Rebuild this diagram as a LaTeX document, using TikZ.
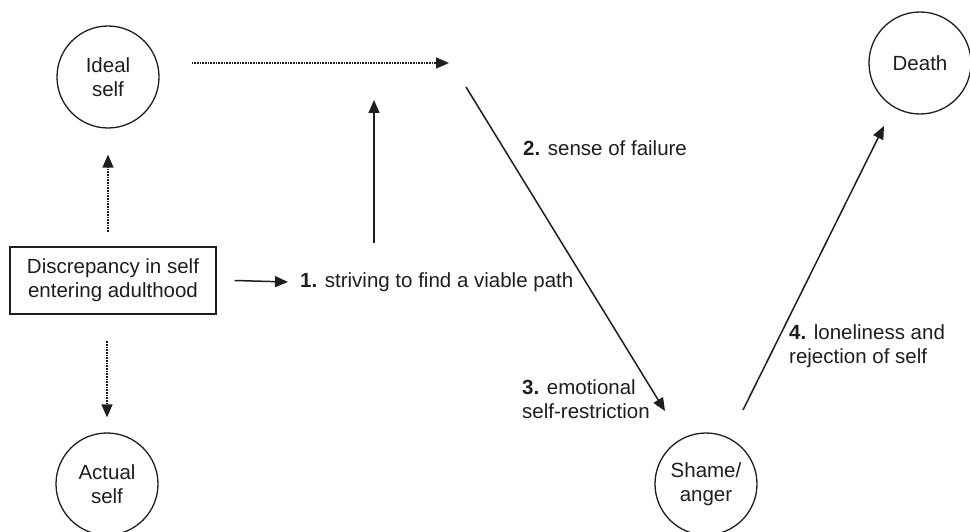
\documentclass[tikz,border=0pt]{standalone}
\usepackage{fontspec}
\setmainfont{Liberation Sans}
\usetikzlibrary{arrows.meta}
\definecolor{ink}{HTML}{1E1E1E}
\begin{document}
\begin{tikzpicture}[x=1pt,y=-1pt,
  every node/.style={font=\fontsize{20.5}{24}\selectfont, text=ink},
  circ/.style={draw=ink, line width=1.3pt, circle, minimum size=102pt, inner sep=0pt, align=center},
  boxnode/.style={draw=ink, line width=1.3pt, rectangle, minimum width=206pt, minimum height=67pt, inner sep=0pt, align=center},
  lbl/.style={inner sep=0pt, align=left, anchor=west},
  arr/.style={draw=ink, line width=1.5pt, -{Triangle[length=13pt,width=11pt]}},
  dotarr/.style={arr, dash pattern=on 1pt off 0.6pt}
]
\useasboundingbox (0,0) rectangle (970,532);

% states
\node[circ] (ideal)  at (108,77)  {Ideal\\self};
\node[circ] (actual) at (107,484) {Actual\\self};
\node[circ] (shame)  at (706,484) {Shame/\\anger};
\node[circ] (death)  at (920,63)  {Death};
\node[boxnode] (disc) at (113,280.5) {Discrepancy in self\\entering adulthood};

% stage labels
\node[lbl] (s1) at (300,282)   {\textbf{1.} striving to find a viable path};
\node[lbl] (s2) at (523,148)   {\textbf{2.} sense of failure};
\node[lbl] (s3) at (522,399.5) {\textbf{3.} emotional\\self-restriction};
\node[lbl] (s4) at (789,346.5) {\textbf{4.} loneliness and\\rejection of self};

% free ends of the open connectors
\coordinate (topL) at (192,63);
\coordinate (topR) at (449,63);
\coordinate (upA)  at (374,243);
\coordinate (upB)  at (374,100);
\coordinate (dgA)  at (466,87);
\coordinate (dgB)  at (665,411);
\coordinate (riseA) at (743,410);
\coordinate (riseB) at (884,126);

% connectors
\draw[dotarr] ([yshift=14pt]ideal.south |- disc.north) -- ([yshift=-26pt]ideal.south);
\draw[dotarr] ([yshift=-26pt]actual.north |- disc.south) -- ([yshift=15pt]actual.north);
\draw[arr] ([xshift=18pt]disc.east) -- ([xshift=-12pt]s1.west);
\draw[dotarr] (topL) -- (topR);
\draw[arr] (upA) -- (upB);
\draw[arr] (dgA) -- (dgB);
\draw[arr] (riseA) -- (riseB);
\end{tikzpicture}
\end{document}
